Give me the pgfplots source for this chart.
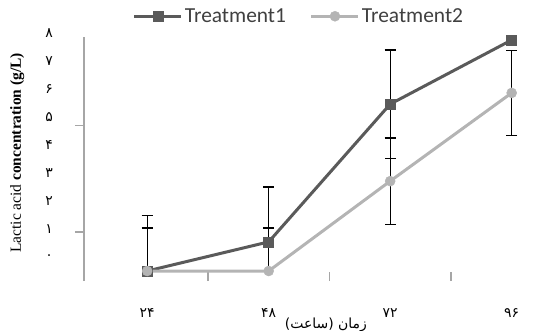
\documentclass[border=0pt]{standalone}
\usepackage{pgfplots}
\pgfplotsset{compat=1.18}
\usepackage{fontspec}
\setmainfont{Liberation Serif}
\newfontfamily\arabicfont[Script=Arabic]{DejaVu Sans}
\newfontfamily\legfont{Carlito}
\TeXXeTstate=1
\definecolor{tone}{HTML}{5A5A5A}
\definecolor{ttwo}{HTML}{B4B4B4}
\definecolor{axgray}{HTML}{A6A6A6}
\definecolor{legtext}{HTML}{404040}
\begin{document}
\begin{tikzpicture}
\useasboundingbox (0,0) rectangle (560bp,331bp);
\begin{axis}[
  at={(84bp,50bp)}, anchor=south west,
  scale only axis, width=473.85bp, height=244bp,
  xmin=-0.52, xmax=3.38, ymin=-0.357, ymax=8.357,
  axis lines*=left,
  x axis line style={draw opacity=0},
  y axis line style={draw=axgray, line width=1.3bp},
  major tick length=0pt,
  major tick style={draw=none},
  minor tick length=9bp,
  minor tick style={draw=axgray, draw opacity=1, line width=1.2bp},
  xtick={0,1,2,3},
  xticklabels={۲۴,۴۸,۷۲,۹۶},
  minor xtick={0.5,1.5,2.5},
  xtick align=inside,
  xticklabel style={font=\arabicfont\fontsize{14}{16}\selectfont, anchor=center, yshift=-32bp},
  ytick={0.3,1.3,2.3,3.3,4.3,5.3,6.3,7.3,8.3},
  yticklabels={۰,۱,۲,۳,۴,۵,۶,۷,۸},
  minor ytick={1.39,5.21},
  ytick align=outside,
  yticklabel style={font=\arabicfont\fontsize{14}{16}\selectfont, anchor=center, xshift=-35bp, yshift=5.6bp},
  xlabel={\arabicfont\beginR زمان (ساعت)\endR},
  xlabel style={font=\fontsize{14}{16}\selectfont, at={(axis description cs:0.5105,-0.18)}, anchor=center},
  ylabel={Lactic acid \textbf{concentration (g/L)}},
  ylabel style={font=\fontsize{15.5}{17}\selectfont, at={(axis description cs:-0.141,0.525)}, anchor=center},
  legend style={at={(axis description cs:0.4537,1.085)}, anchor=center, draw=none, fill=none,
    font=\legfont\fontsize{21.5}{23}\selectfont, text=legtext, legend columns=2,
    column sep=0bp},
  legend image code/.code={\draw[mark repeat=2,mark phase=2,#1] plot coordinates {(0bp,0bp) (23.5bp,0bp) (47bp,0bp)};},
  clip=false,
]
% error bars (drawn first, behind lines)
\addplot[forget plot, only marks, mark=none, error bars/.cd, y dir=plus, y explicit,
  error bar style={black, line width=1.3bp},
  error mark options={rotate=90, mark size=5.5bp, black, line width=1.3bp}]
  coordinates {(0,0) +- (0,1.98) (1,1.04) +- (0,1.96) (1,0) +- (0,1.54) (0,0) +- (0,1.54)};
\addplot[forget plot, only marks, mark=none, error bars/.cd, y dir=both, y explicit,
  error bar style={black, line width=1.3bp},
  error mark options={rotate=90, mark size=5.5bp, black, line width=1.3bp}]
  coordinates {(2,5.96) +- (0,1.93) (2,3.21) +- (0,1.54) (3,6.36) +- (0,1.52)};
% series
\addplot[tone, line width=3bp, mark=square*, mark size=5bp, mark options={fill=tone, draw=tone, line width=0.5bp}]
  coordinates {(0,0) (1,1.04) (2,5.96) (3,8.25)};
\addlegendentry{Treatment1\hspace*{22bp}}
\addplot[ttwo, line width=3bp, mark=*, mark size=5bp, mark options={fill=ttwo, draw=ttwo, line width=0.5bp}]
  coordinates {(0,0) (1,0) (2,3.21) (3,6.36)};
\addlegendentry{Treatment2}
\end{axis}
\end{tikzpicture}
\end{document}
